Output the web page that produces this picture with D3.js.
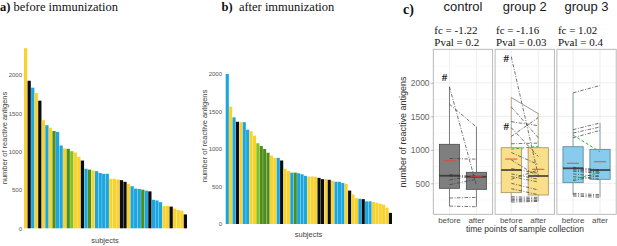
<!DOCTYPE html>
<html><head><meta charset="utf-8">
<script src="https://cdn.jsdelivr.net/npm/d3@7"></script>
<style>body{margin:0;background:#fff}svg{display:block}</style>
</head><body>
<svg id="c" width="617" height="246"></svg>
<script>
// ---------- DATA ----------
const subjectsA = d3.range(1, 47).map(i => "A" + i);
const groupA = ["Y","K","B","Y","K","Y","B","Y","G","B","B","Y","G","L","Y","Y","K","B","G","Y","B","B","B","B","Y","Y","Y","K","K","Y","B","B","B","G","B","K","B","B","B","Y","Y","K","Y","Y","Y","K"];
const valuesA = [2350,1925,1835,1765,1665,1410,1345,1312,1270,1258,1080,1042,1037,1006,990,932,884,777,766,755,746,722,711,711,646,646,637,628,606,580,549,518,513,504,491,482,372,363,341,292,292,283,257,239,230,181];

const subjectsB = d3.range(1, 50).map(i => "B" + i);
const groupB = ["B","Y","B","K","Y","B","B","Y","Y","L","G","G","G","Y","Y","B","K","Y","Y","B","G","B","B","B","Y","Y","Y","K","K","Y","K","Y","B","B","B","Y","K","Y","Y","B","K","B","B","Y","Y","Y","Y","Y","K"];
const valuesB = [1996,1561,1419,1360,1355,1355,1255,1235,1175,1075,1037,998,948,910,880,880,845,736,706,684,684,675,662,641,632,632,627,614,597,597,588,575,562,562,545,532,444,392,344,336,331,301,301,292,283,270,257,218,148];

const barTicks = [0, 500, 1000, 1500, 2000];

const groups = ["control", "group 2", "group 3"];
const fcLabels = ["fc = -1.22", "fc = -1.16", "fc = 1.02"];
const pvalLabels = ["Pval = 0.2", "Pval = 0.03", "Pval = 0.4"];
const timePoints = ["before", "after"];
const boxTicks = [500, 1000, 1500, 2000];

// box statistics per group: [before, after]
const boxQ1 = [[425, 410], [360, 325], [509, 560]];
const boxMedian = [[613, 598], [698, 609], [724, 698]];
const boxQ3 = [[1082, 664], [1031, 1031], [1046, 1007]];
const whiskerLow = [[160, 150], [220, 230], [330, 290]];
const whiskerHigh = [[1940, 1345], [1780, 1550], [1850, 1400]];
const boxMean = [[837, 605], [862, 709], [799, 822]];

// paired subjects per group
const controlBefore = [1940,1680,870,630,610,550,480,280,160];
const controlAfter  = [470,1340,860,600,590,620,560,290,150];
const controlType   = ["A","A","A","A","A","A","A","A","A"];
const group2Before = [2390,1780,1640,1420,1330,1200,1090,1010,960,850,720,640,600,560,500,420,300,280,260,240,220];
const group2After  = [620,1540,1180,1360,900,1480,1100,1050,780,600,650,560,520,700,400,330,290,270,250,240,230];
const group2Type   = ["A","B","A","A","A","A","A","C","A","A","A","A","A","A","A","A","A","A","A","A","A"];
const group3Before = [1850,1300,1250,1180,1220,560,740,720,700,680,640,600,540,350,330,310];
const group3After  = [1960,1400,1340,1290,970,660,700,690,670,650,600,560,620,330,310,290];
const group3Type   = ["A","A","A","A","C","C","A","A","A","A","A","A","A","A","A","A"];
const hashMarks = [{g: 0, v: 2090}, {g: 1, v: 2365}, {g: 1, v: 1355}];

// ---------- DRAW ----------
const svg = d3.select("#c");
const catColor = {Y: "#f8d22f", K: "#0d0d0d", B: "#1ba6df", G: "#4f8d1d", L: "#86c21c"};

function barPanel(subjects, cats, values, xr, yr, axisX, title, titleX, xTitleX, xTitleY, yTitleX, yTitleY) {
  const x = d3.scaleBand().domain(subjects).range(xr).paddingInner(0.08);
  const y = d3.scaleLinear().domain([0, 2000]).range(yr);
  const g = svg.append("g");
  g.selectAll("rect").data(values).join("rect")
    .attr("x", (d, i) => x(subjects[i]))
    .attr("width", x.bandwidth())
    .attr("y", d => y(d))
    .attr("height", d => y(0) - y(d))
    .attr("fill", (d, i) => catColor[cats[i]]);
  const ax = g.append("g").attr("transform", `translate(${axisX},0)`)
    .call(d3.axisLeft(y).tickValues(barTicks).tickSize(0).tickPadding(1).tickFormat(d3.format("d")));
  ax.select(".domain").remove();
  ax.selectAll("text").attr("font-family", "Liberation Sans, Arial, sans-serif").attr("font-size", 6).attr("fill", "#555");
  g.append("text").attr("x", xTitleX).attr("y", xTitleY).attr("text-anchor", "middle")
    .attr("font-family", "Liberation Sans, Arial, sans-serif").attr("font-size", 7.5).attr("fill", "#444").text("subjects");
  g.append("text").attr("transform", `translate(${yTitleX},${yTitleY}) rotate(-90)`).attr("text-anchor", "middle")
    .attr("font-family", "Liberation Sans, Arial, sans-serif").attr("font-size", 7.5).attr("fill", "#444").text("number of reactive antigens");
  const t = svg.append("text").attr("x", titleX).attr("y", 10.5)
    .attr("font-family", "Liberation Serif, Times New Roman, serif").attr("font-size", 12.5).attr("fill", "#111");
  t.append("tspan").attr("font-weight", "bold").text(title[0]);
  t.append("tspan").attr("xml:space", "preserve").text(title[1]);
}

barPanel(subjectsA, groupA, valuesA, [24, 187], [228.3, 75], 23, ["a)", " before immunization"], 0, 105, 243, 7, 138);
barPanel(subjectsB, groupB, valuesB, [225.7, 392], [224, 73.7], 223, ["b)", "  after immunization"], 221.5, 308.5, 237, 207, 136);

// ---------- panel c ----------
const panelX = d3.scaleBand().domain(groups).range([433.3, 616.2]).paddingInner(0.04);
const yC = d3.scaleLinear().domain([0, 2500]).range([216.8, 49.3]);
const panelTop = yC(2500), panelBottom = 214.3;
const xIn = d3.scalePoint().domain(timePoints).range([0, panelX.bandwidth()]).padding(0.6);
const step = xIn.step();
const boxW = step * 0.75;
const boxFill = ["#7f7f7f", "#fadf8b", "#87ccec"];
const boxStroke = ["#4a4a4a", "#a08f5c", "#5a7f92"];
const pairs = [
  [controlBefore, controlAfter, controlType],
  [group2Before, group2After, group2Type],
  [group3Before, group3After, group3Type]
];
const lineStyle = {
  A: {stroke: "#3a3a3a", dash: "3.5,1.5,1,1.5", w: 0.7},
  B: {stroke: "#555", dash: null, w: 0.6},
  C: {stroke: "#35b24a", dash: "3,2", w: 1}
};
const sans = "Liberation Sans, Arial, sans-serif";
const serif = "Liberation Serif, Times New Roman, serif";

svg.append("text").attr("x", 403).attr("y", 14).attr("font-family", serif).attr("font-weight", "bold")
  .attr("font-size", 14).attr("fill", "#111").text("c)");

groups.forEach((grp, gi) => {
  const px = panelX(grp);
  const g = svg.append("g").attr("transform", `translate(${px},0)`);
  const pw = panelX.bandwidth();
  svg.append("text").attr("x", px + pw / 2).attr("y", 11).attr("text-anchor", "middle")
    .attr("font-family", sans).attr("font-size", 13).attr("fill", "#1a1a1a").text(grp);
  svg.append("text").attr("x", px + 1).attr("y", 34.3).attr("font-family", serif).attr("font-size", 11).attr("fill", "#111").text(fcLabels[gi]);
  svg.append("text").attr("x", px + 1).attr("y", 45.7).attr("font-family", serif).attr("font-size", 11).attr("fill", "#111").text(pvalLabels[gi]);
  g.append("rect").attr("x", 0).attr("y", panelTop).attr("width", pw).attr("height", panelBottom - panelTop).attr("fill", "#fff");
  d3.range(250, 2500, 500).forEach(v => {
    g.append("line").attr("x1", 0).attr("x2", pw).attr("y1", yC(v)).attr("y2", yC(v)).attr("stroke", "#f3f3f3").attr("stroke-width", 0.5);
  });
  boxTicks.forEach(v => {
    g.append("line").attr("x1", 0).attr("x2", pw).attr("y1", yC(v)).attr("y2", yC(v)).attr("stroke", "#e6e6e6").attr("stroke-width", 0.7);
  });
  timePoints.forEach(tp => {
    g.append("line").attr("x1", xIn(tp)).attr("x2", xIn(tp)).attr("y1", panelTop).attr("y2", panelBottom).attr("stroke", "#e6e6e6").attr("stroke-width", 0.7);
  });
  timePoints.forEach((tp, ti) => {
    const cx = xIn(tp);
    g.append("line").attr("x1", cx).attr("x2", cx).attr("y1", yC(boxQ3[gi][ti])).attr("y2", yC(whiskerHigh[gi][ti]))
      .attr("stroke", boxStroke[gi]).attr("stroke-width", 0.7);
    g.append("line").attr("x1", cx).attr("x2", cx).attr("y1", yC(boxQ1[gi][ti])).attr("y2", yC(whiskerLow[gi][ti]))
      .attr("stroke", boxStroke[gi]).attr("stroke-width", 0.7);
    g.append("rect").attr("x", cx - boxW / 2).attr("width", boxW)
      .attr("y", yC(boxQ3[gi][ti])).attr("height", yC(boxQ1[gi][ti]) - yC(boxQ3[gi][ti]))
      .attr("fill", boxFill[gi]).attr("stroke", boxStroke[gi]).attr("stroke-width", 0.8);
  });
  const [bv, av, ty] = pairs[gi];
  bv.forEach((b, i) => {
    const s = lineStyle[ty[i]];
    g.append("line").attr("x1", xIn("before")).attr("x2", xIn("after"))
      .attr("y1", yC(b)).attr("y2", yC(av[i]))
      .attr("stroke", s.stroke).attr("stroke-width", s.w).attr("stroke-dasharray", s.dash);
  });
  timePoints.forEach((tp, ti) => {
    const cx = xIn(tp);
    g.append("line").attr("x1", cx - boxW / 2).attr("x2", cx + boxW / 2)
      .attr("y1", yC(boxMedian[gi][ti])).attr("y2", yC(boxMedian[gi][ti]))
      .attr("stroke", "#333").attr("stroke-width", 1.8).attr("opacity", 0.85);
    g.append("line").attr("x1", cx - boxW * 0.3).attr("x2", cx + boxW * 0.3)
      .attr("y1", yC(boxMean[gi][ti])).attr("y2", yC(boxMean[gi][ti]))
      .attr("stroke", "#e8452c").attr("stroke-width", 1.1).attr("opacity", 0.85);
  });
  hashMarks.filter(h => h.g === gi).forEach(h => {
    g.append("text").attr("x", xIn("before") - 5).attr("y", yC(h.v)).attr("dy", "0.35em").attr("text-anchor", "middle")
      .attr("font-family", serif).attr("font-weight", "bold").attr("font-size", 11).attr("fill", "#111").text("#");
  });
  g.append("rect").attr("x", 0).attr("y", panelTop).attr("width", pw).attr("height", panelBottom - panelTop)
    .attr("fill", "none").attr("stroke", "#b3b3b3").attr("stroke-width", 0.9);
  timePoints.forEach(tp => {
    g.append("text").attr("x", xIn(tp)).attr("y", 223.3).attr("text-anchor", "middle")
      .attr("font-family", sans).attr("font-size", 8).attr("fill", "#4d4d4d").text(tp);
  });
});

const axC = svg.append("g").attr("transform", `translate(${panelX(groups[0])},0)`)
  .call(d3.axisLeft(yC).tickValues(boxTicks).tickSize(2.2).tickPadding(1.5).tickFormat(d3.format("d")));
axC.select(".domain").remove();
axC.selectAll("line").attr("stroke", "#b3b3b3");
axC.selectAll("text").attr("font-family", sans).attr("font-size", 8.5).attr("fill", "#666");

svg.append("text").attr("transform", `translate(406,132) rotate(-90)`).attr("text-anchor", "middle")
  .attr("font-family", sans).attr("font-size", 9).attr("fill", "#333").text("number of reactive antigens");
svg.append("text").attr("x", 525).attr("y", 232).attr("text-anchor", "middle")
  .attr("font-family", sans).attr("font-size", 8.5).attr("fill", "#333").text("time points of sample collection");
</script>
</body></html>
